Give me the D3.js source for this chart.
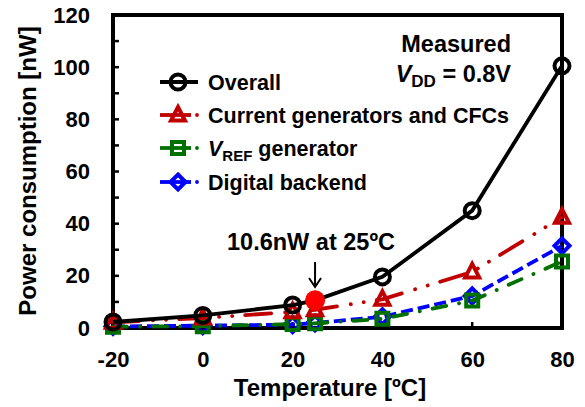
<!DOCTYPE html>
<html>
<head>
<meta charset="utf-8">
<script src="https://cdn.jsdelivr.net/npm/d3@7"></script>
<style>
  body { margin: 0; background: #fff; }
  text { font-family: "Liberation Sans", Arial, sans-serif; font-weight: bold; }
</style>
</head>
<body>
<script>
var w = 585, h = 407;

// data
var temps = [-20, 0, 20, 25, 40, 60, 80];
var overall = [2.3, 4.8, 8.8, 10.6, 19.6, 45, 100.5];
var currentGen = [2.2, 3.8, 6.2, 7, 11, 21.5, 42.5];
var vref = [0.5, 0.7, 1.5, 1.8, 3.5, 10.5, 25.5];
var digital = [0.6, 0.9, 1.3, 1.9, 4.3, 12.3, 31.5];
var xTicks = [-20, 0, 20, 40, 60, 80];
var yTicks = [0, 20, 40, 60, 80, 100, 120];
var yMinor = [10, 30, 50, 70, 90, 110];

var series = [
  { name: 'Overall', values: overall, color: '#000', dash: null, cap: 'butt', marker: 'circle' },
  { name: 'Current generators and CFCs', values: currentGen, color: '#c00000', dash: '26,14,0.1,13,0.1,13', cap: 'round', marker: 'triangle' },
  { name: 'VREF generator', values: vref, color: '#007000', dash: '14,13,0.1,13', cap: 'round', marker: 'square' },
  { name: 'Digital backend', values: digital, color: '#0000ff', dash: '12,5', cap: 'butt', marker: 'diamond' }
];

var x = d3.scaleLinear().domain([-20, 80]).range([113, 562]);
var y = d3.scaleLinear().domain([0, 120]).range([328, 15]);

var svg = d3.select('body').append('svg')
    .attr('width', w)
    .attr('height', h);

// axes
var xAxis = svg.append('g')
    .attr('transform', 'translate(0,' + y(0) + ')')
    .call(d3.axisBottom(x).tickValues(xTicks).tickSize(0).tickPadding(23).tickFormat(d => String(d)));
var yAxis = svg.append('g')
    .attr('transform', 'translate(' + x(-20) + ',0)')
    .call(d3.axisLeft(y).tickValues(yTicks).tickSize(0).tickPadding(23));
[xAxis, yAxis].forEach(function(a) {
  a.select('.domain').remove();
  a.selectAll('text').attr('font-size', 22).attr('fill', '#000')
    .style('font-family', '"Liberation Sans", Arial, sans-serif').style('font-weight', 'bold');
});

// inner tick marks
svg.append('g').selectAll('line')
  .data(yTicks.concat(yMinor))
  .enter().append('line')
  .attr('x1', x(-20)).attr('x2', x(-20) + 6)
  .attr('y1', d => y(d)).attr('y2', d => y(d))
  .attr('stroke', '#000').attr('stroke-width', 2.5);
svg.append('g').selectAll('line')
  .data(xTicks.slice(1, -1))
  .enter().append('line')
  .attr('x1', d => x(d)).attr('x2', d => x(d))
  .attr('y1', y(0)).attr('y2', y(0) - 6)
  .attr('stroke', '#000').attr('stroke-width', 2.5);

// plot frame
svg.append('rect')
  .attr('x', x(-20)).attr('y', y(120))
  .attr('width', x(80) - x(-20)).attr('height', y(0) - y(120))
  .attr('fill', 'none').attr('stroke', '#000').attr('stroke-width', 4);

var line = d3.line()
  .x((d, i) => x(temps[i]))
  .y(d => y(d));

function markerPath(type) {
  if (type === 'triangle') return 'M0,-8L7,5.5L-7,5.5Z';
  if (type === 'square') return 'M-6,-6H6V6H-6Z';
  if (type === 'diamond') return 'M0,-7.5L7.5,0L0,7.5L-7.5,0Z';
  return null;
}

function drawMarker(g, s) {
  if (s.marker === 'circle') {
    g.append('circle').attr('r', 7.5).attr('fill', 'none')
      .attr('stroke', s.color).attr('stroke-width', 4);
  } else {
    g.append('path').attr('d', markerPath(s.marker)).attr('fill', 'none')
      .attr('stroke', s.color).attr('stroke-width', 4).attr('stroke-linejoin', 'miter');
  }
}

// draw back to front: digital, vref, current, overall
series.slice().reverse().forEach(function(s) {
  svg.append('path')
    .datum(s.values)
    .attr('d', line)
    .attr('fill', 'none')
    .attr('stroke', s.color)
    .attr('stroke-width', 3.8)
    .attr('stroke-dasharray', s.dash)
    .attr('stroke-linecap', s.cap);
  svg.append('g').selectAll('g')
    .data(s.values)
    .enter().append('g')
    .attr('transform', (d, i) => 'translate(' + x(temps[i]) + ',' + y(d) + ')')
    .each(function() { drawMarker(d3.select(this), s); });
});

// highlighted 25C point
svg.append('circle')
  .attr('cx', x(25)).attr('cy', y(10.6)).attr('r', 10)
  .attr('fill', '#ff0000');

// annotation
svg.append('text')
  .attr('x', 311).attr('y', 250)
  .attr('text-anchor', 'middle').attr('font-size', 23.5)
  .text('10.6nW at 25ºC');
svg.append('line')
  .attr('x1', x(25)).attr('x2', x(25))
  .attr('y1', 262).attr('y2', 286)
  .attr('stroke', '#000').attr('stroke-width', 2);
svg.append('path')
  .attr('d', 'M' + (x(25) - 6) + ',278L' + x(25) + ',287L' + (x(25) + 6) + ',278')
  .attr('fill', 'none').attr('stroke', '#000').attr('stroke-width', 2);

// legend
var legend = svg.append('g');
var ly = [82, 115, 148, 182];
series.forEach(function(s, i) {
  var g = legend.append('g').attr('transform', 'translate(0,' + ly[i] + ')');
  g.append('line').attr('x1', 160).attr('x2', s.dash ? 191 : 198)
    .attr('stroke', s.color).attr('stroke-width', 3.8);
  if (s.dash) {
    g.append('circle').attr('cx', 197).attr('cy', 0).attr('r', 1.9).attr('fill', s.color);
  }
  var m = g.append('g').attr('transform', 'translate(178,0)');
  drawMarker(m, s);
  var t = g.append('text').attr('x', 208).attr('y', 8).attr('font-size', 21.5);
  if (s.name === 'VREF generator') {
    t.append('tspan').attr('font-style', 'italic').text('V');
    t.append('tspan').attr('font-size', 15).attr('dy', 5).text('REF');
    t.append('tspan').attr('dy', -5).text(' generator');
  } else {
    t.text(s.name);
  }
});

// measured note
svg.append('text')
  .attr('x', 511).attr('y', 52)
  .attr('text-anchor', 'end').attr('font-size', 23.5)
  .text('Measured');
var vt = svg.append('text')
  .attr('x', 511).attr('y', 82)
  .attr('text-anchor', 'end').attr('font-size', 23.5);
vt.append('tspan').attr('font-style', 'italic').text('V');
vt.append('tspan').attr('font-size', 17).attr('dy', 5).text('DD');
vt.append('tspan').attr('dy', -5).text(' = 0.8V');

// axis titles
svg.append('text')
  .attr('x', 330).attr('y', 396)
  .attr('text-anchor', 'middle').attr('font-size', 24)
  .text('Temperature [ºC]');
svg.append('text')
  .attr('transform', 'translate(36,' + 171 + ') rotate(-90)')
  .attr('text-anchor', 'middle').attr('font-size', 24)
  .text('Power consumption [nW]');
</script>
</body>
</html>
